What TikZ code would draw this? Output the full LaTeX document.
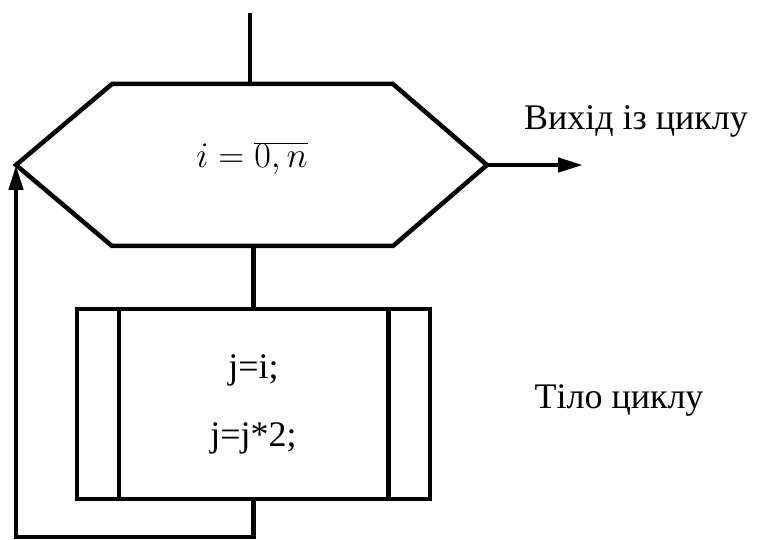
\documentclass[tikz,border=0pt]{standalone}
\usepackage{fix-cm}
\usepackage{fontspec}
\setmainfont{Liberation Serif}[Ligatures=TeX]
\usetikzlibrary{arrows.meta}
\usetikzlibrary{positioning}

\tikzset{
  flow/.style={line width=4.5pt},
  bigtxt/.style={font=\rmfamily\fontsize{36}{68}\selectfont},
  tipend/.style={-{Triangle[length=25pt,width=14pt]}}
}

\begin{document}
\begin{tikzpicture}[x=1pt,y=-1pt]
        \useasboundingbox (0,0) rectangle (758,540);

        % Loop header (hexagon)
        \coordinate (hw) at (16,165);
        \coordinate (hnw) at (112,84);
        \coordinate (hne) at (393,84);
        \coordinate (he) at (487,165);
        \coordinate (hse) at (393,246);
        \coordinate (hsw) at (112,246);
        \draw[flow] (hw) -- (hnw) -- (hne) -- (he) -- (hse) -- (hsw) -- cycle;
        \node[bigtxt, anchor=base] (cond) at (252,168) {$i = \overline{0,n}$};

        % Loop body
        \node[flow, draw, minimum width=353pt, minimum height=190pt,
              bigtxt, align=center] (body) at (253.5,404) {j=i;\\j=j*2;};
        \draw[flow] ([xshift=44pt]body.north west) -- ([xshift=44pt]body.south west);
        \draw[flow] ([xshift=-44pt]body.north east) -- ([xshift=-44pt]body.south east);

        % Connectors
        \coordinate (entry) at (250,13);
        \coordinate (exitend) at (583,165);
        \coordinate (loopbot) at (14,537);
        \draw[flow] (entry) -- (entry |- hnw);
        \draw[flow] (body.north |- hsw) -- (body.north);
        \draw[flow, tipend] (he) -- (exitend);
        \draw[flow, tipend] (body.south) -- (body.south |- loopbot) -| (hw);

        % Labels
        \node[bigtxt, anchor=base] (exitlbl) at (636,130) {Вихід із циклу};
        \node[bigtxt, anchor=base] (bodylbl) at (619,408) {Тіло циклу};
    \end{tikzpicture}
\end{document}
